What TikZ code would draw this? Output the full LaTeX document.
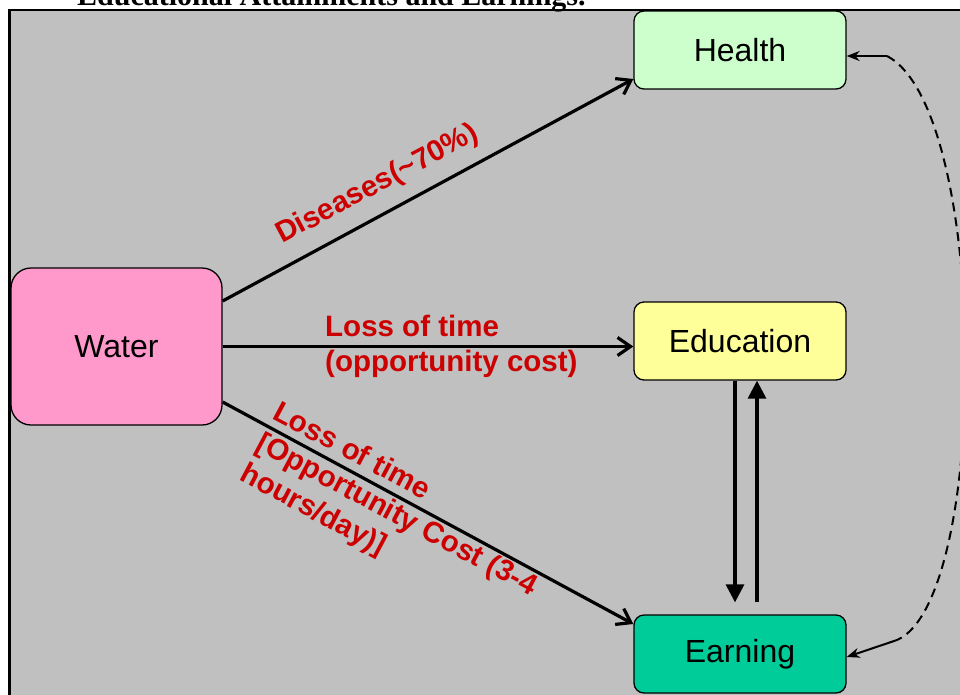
\documentclass[tikz,border=0pt]{standalone}
\usepackage{fontspec}
\setmainfont{Liberation Serif}
\newfontfamily\arialf{Liberation Sans}
\usetikzlibrary{arrows.meta}
\definecolor{bggray}{RGB}{192,192,192}
\definecolor{healthc}{RGB}{204,255,204}
\definecolor{waterc}{RGB}{255,153,204}
\definecolor{educc}{RGB}{255,255,153}
\definecolor{earnc}{RGB}{0,204,153}
\definecolor{labred}{RGB}{204,0,0}
\begin{document}
\begin{tikzpicture}[x=1pt,y=-1pt,
  box/.style={draw=black, line width=1.3pt, rounded corners=10pt, minimum width=212pt, minimum height=78pt, inner sep=0pt, font=\arialf\fontsize{32}{38}\selectfont},
  lbl/.style={text=labred, font=\arialf\bfseries\fontsize{29.5}{35}\selectfont, inner sep=0pt, align=left},
  mainarrow/.style={line width=3.2pt, -{Straight Barb[length=13pt,width=18pt]}},
  vert/.style={line width=3.2pt, -{Triangle[length=18pt,width=18pt]}},
  feedback/.style={line width=2pt, -{Stealth[length=13pt,width=10pt]}}
]
\useasboundingbox (0,0) rectangle (960,694);
\clip (0,0) rectangle (960,694);
\fill[white] (0,0) rectangle (960,694);
\filldraw[fill=bggray, draw=black, line width=2.5pt] (9.5,10) rectangle (980,720);
\node[anchor=base west, inner sep=0pt, font=\bfseries\fontsize{30}{36}\selectfont] (title) at (77,5.5) {Educational Attainments and Earnings.};

\node[box, fill=healthc] (health) at (740,50) {Health};
\node[box, fill=waterc, rounded corners=20pt, minimum width=211pt, minimum height=157pt] (water) at (116.5,346.5) {Water};
\node[box, fill=educc] (edu) at (740,341) {Education};
\node[box, fill=earnc] (earn) at (740,654) {Earning};

\draw[mainarrow] ([yshift=45.5pt]water.east) -- ([yshift=-29pt]health.west);
\draw[mainarrow] (water.east) -- (water.east -| edu.west);
\draw[mainarrow] ([yshift=-55.5pt]water.east) -- ([yshift=30pt]earn.west);
\draw[vert] ([xshift=-5pt]edu.south) -- ([xshift=-5pt,yshift=12pt]earn.north);
\draw[vert] ([xshift=17pt,yshift=12pt]earn.north) -- ([xshift=17pt]edu.south);

\coordinate (hc) at (887,56);
\coordinate (ec) at (897,640);
\draw[feedback] (hc) -- (hc -| health.east);
\draw[line width=2pt, dash pattern=on 9pt off 6pt] (hc) .. controls (990,110) and (990,600) .. (ec);
\draw[feedback] (ec) -- ([yshift=-3pt]earn.east);

\node[lbl, rotate=28, anchor=base west] (dis) at (282,244) {Diseases(\textasciitilde70\%)};
\node[lbl, anchor=north west] (mid) at (325,315) {Loss of time\\(opportunity cost)};
\node[lbl, rotate=-28, anchor=north west] (low) at (281,399) {Loss of time\\{[}Opportunity Cost (3-4\\hours/day)]};
\end{tikzpicture}
\end{document}
